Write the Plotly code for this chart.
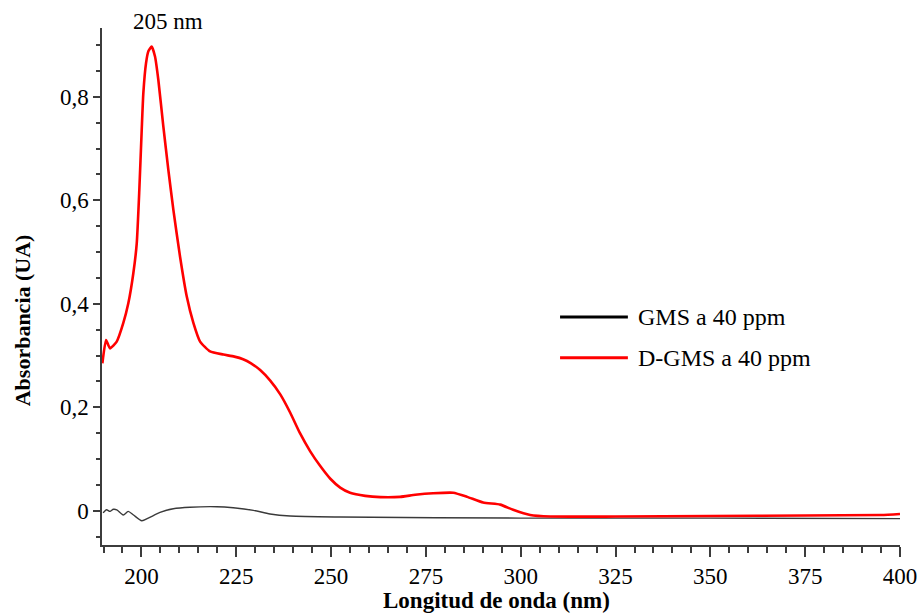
import plotly.graph_objects as go

# D-GMS a 40 ppm (red)
dgms_x = [189.7, 190.66, 191.71, 193.48, 195.22, 196.54, 197.86, 198.76, 199.44, 200.07, 200.50,
          201.21, 201.82, 202.71, 203.58, 204.45, 205.77, 207.09, 208.41, 210.18, 211.95, 213.69,
          215.46, 218.10, 221.6, 224.5, 226.8, 228.9, 231.3, 233.9, 236.6, 239.2, 241.8, 244.5,
          247.1, 249.8, 252.4, 255.0, 259.0, 263.0, 268.2, 272.2, 276.9, 282.2, 285.9, 290.1, 294.6,
          298.0, 302.5, 307.8, 325.0, 350.0, 375.0, 395.0, 400.0]
dgms_y = [0.285, 0.330, 0.314, 0.327, 0.363, 0.401, 0.459, 0.517, 0.620, 0.736, 0.807,
          0.865, 0.888, 0.897, 0.878, 0.833, 0.743, 0.659, 0.582, 0.491, 0.414, 0.363,
          0.327, 0.308, 0.302, 0.298, 0.293, 0.285, 0.272, 0.252, 0.225, 0.190, 0.150, 0.115,
          0.087, 0.062, 0.045, 0.035, 0.029, 0.0265, 0.027, 0.031, 0.034, 0.035, 0.027, 0.016, 0.012,
          0.002, -0.008, -0.011, -0.011, -0.010, -0.009, -0.008, -0.006]

# GMS a 40 ppm (black)
gms_x = [189.9, 190.8, 191.7, 192.6, 193.5, 195.2, 196.5, 197.9, 200.1, 201.8, 204.9, 208.4, 212.8,
         219.9, 224.2, 229.5, 233.9, 239.2, 252.4, 300.0, 350.0, 400.0]
gms_y = [-0.004, 0.002, -0.001, 0.003, 0.002, -0.008, -0.001, -0.008, -0.019, -0.014, -0.003, 0.004,
         0.007, 0.008, 0.006, 0.001, -0.006, -0.010, -0.012, -0.014, -0.014, -0.015]

y_tickvals = [0, 0.2, 0.4, 0.6, 0.8]
y_ticktext = ["0", "0,2", "0,4", "0,6", "0,8"]
x_tickvals = [200, 225, 250, 275, 300, 325, 350, 375, 400]
x_ticktext = ["200", "225", "250", "275", "300", "325", "350", "375", "400"]
series_names = ["GMS a 40 ppm", "D-GMS a 40 ppm"]
peak_label = "205 nm"

FONT = "Liberation Serif"

fig = go.Figure()
fig.add_trace(go.Scatter(x=gms_x, y=gms_y, mode="lines", name=series_names[0],
                         line=dict(color="#3a3a3a", width=1.4, shape="spline", smoothing=0.7)))
fig.add_trace(go.Scatter(x=dgms_x, y=dgms_y, mode="lines", name=series_names[1],
                         line=dict(color="#ff0000", width=2.6, shape="spline", smoothing=0.5)))

# manual legend
legend_items = [(series_names[0], "#000000", 0.441), (series_names[1], "#ff0000", 0.362)]
for name, color, yy in legend_items:
    fig.add_shape(type="line", xref="paper", yref="paper", x0=0.574, x1=0.659, y0=yy, y1=yy,
                  line=dict(color=color, width=3))
    fig.add_annotation(xref="paper", yref="paper", x=0.669, y=yy, text=name, showarrow=False,
                       xanchor="left", yanchor="middle", font=dict(family=FONT, size=24, color="black"))

fig.add_annotation(x=207, y=1.013, xref="x", yref="paper", text=peak_label, showarrow=False,
                   xanchor="center", yanchor="middle", font=dict(family=FONT, size=23, color="black"))

fig.add_annotation(xref="paper", yref="paper", x=0.494, y=-0.1354, text="<b>Longitud de onda (nm)</b>",
                   showarrow=False, xanchor="center", yanchor="bottom",
                   font=dict(family=FONT, size=23, color="black"))
fig.add_annotation(xref="paper", yref="paper", x=-0.1, y=0.435, text="<b>Absorbancia (UA)</b>",
                   showarrow=False, xanchor="center", yanchor="middle", textangle=-90,
                   font=dict(family=FONT, size=22, color="black"))

axis_color = "#3c3c3c"
fig.update_layout(
    width=918, height=615,
    margin=dict(l=102, r=18, t=28, b=70, autoexpand=False),
    paper_bgcolor="white", plot_bgcolor="white",
    showlegend=False,
    font=dict(family=FONT, size=23, color="black"),
    xaxis=dict(range=[189.6, 400], showgrid=False, zeroline=False, showline=True, automargin=False,
               linecolor=axis_color, linewidth=1.5, ticks="outside", ticklen=10, tickwidth=1.5,
               tickcolor=axis_color, tickvals=x_tickvals, ticktext=x_ticktext,
               tickfont=dict(family=FONT, size=23, color="black"),
               minor=dict(dtick=5, tick0=0, ticks="outside", ticklen=6, tickwidth=1.5,
                          tickcolor=axis_color, showgrid=False)),
    yaxis=dict(range=[-0.066, 0.933], showgrid=False, zeroline=False, showline=True, automargin=False,
               linecolor=axis_color, linewidth=1.5, ticks="outside", ticklen=7, tickwidth=1.5,
               tickcolor=axis_color, tickvals=y_tickvals, ticktext=y_ticktext,
               tickfont=dict(family=FONT, size=23, color="black"),
               minor=dict(dtick=0.05, tick0=0, ticks="outside", ticklen=4, tickwidth=1.5,
                          tickcolor=axis_color, showgrid=False)),
)

fig.write_html("out.html", config={"displayModeBar": False},
               post_script="document.body.style.margin='0';document.body.style.overflow='hidden';")
